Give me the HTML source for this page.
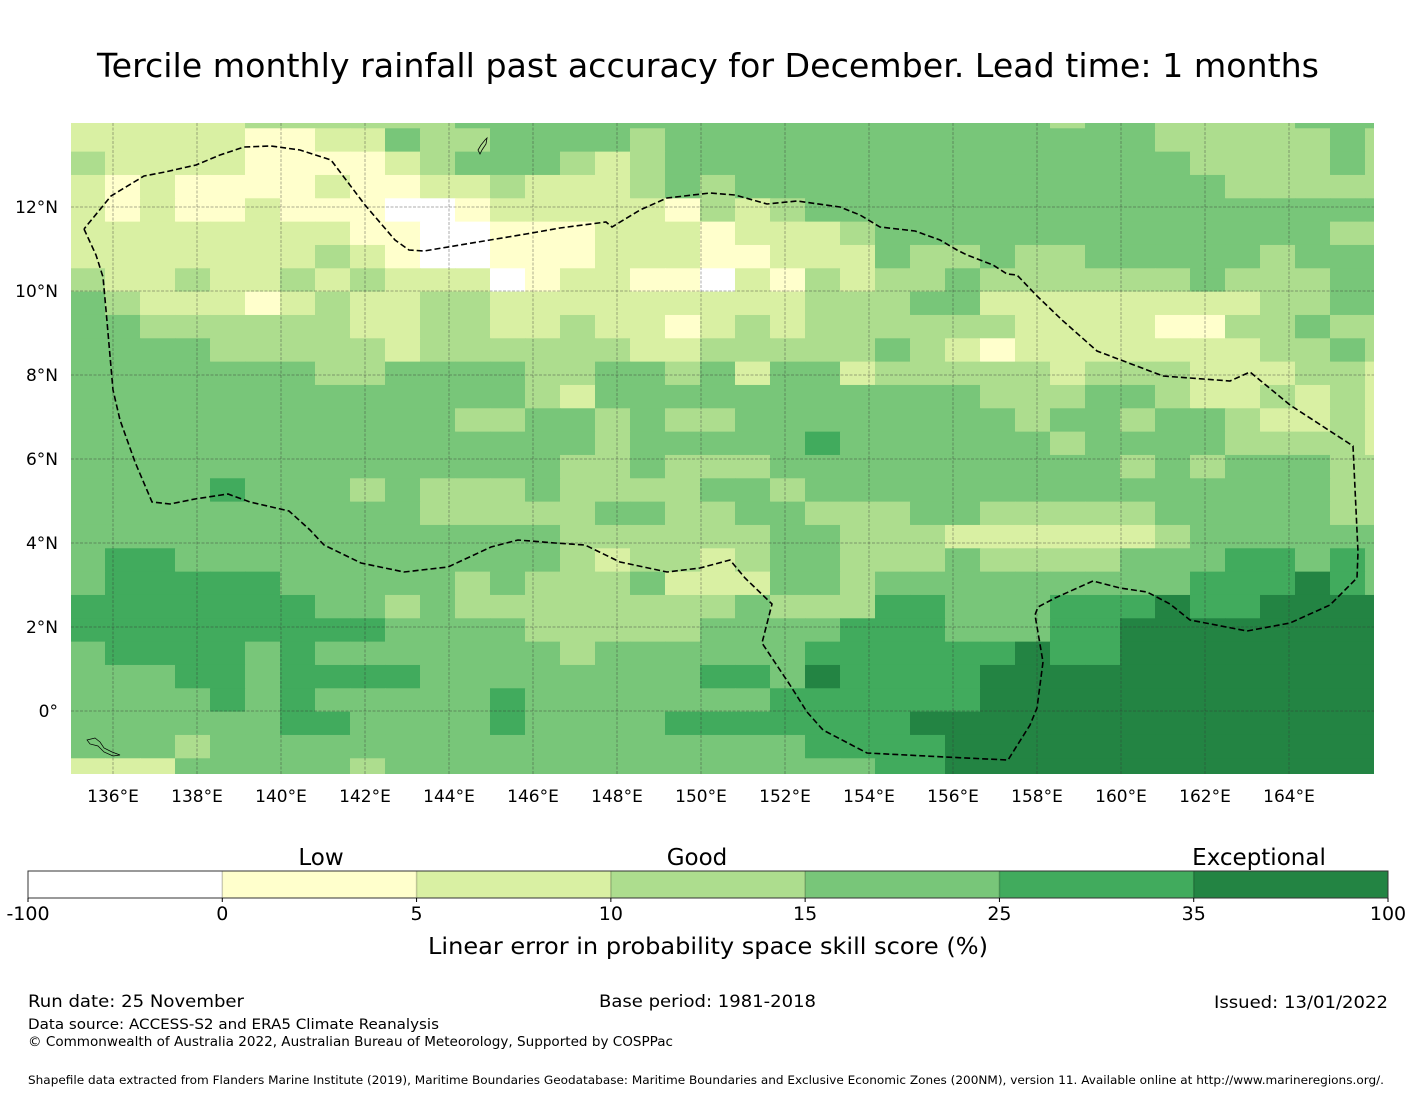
<!DOCTYPE html>
<html><head><meta charset="utf-8"><style>
html,body{margin:0;padding:0;background:#fff;}
svg{display:block;font-family:"DejaVu Sans","Liberation Sans",sans-serif;}
</style></head><body>
<svg id="chart" width="1416" height="1095" viewBox="0 0 1416 1095" xmlns="http://www.w3.org/2000/svg">
<text x="708" y="77" font-size="33" text-anchor="middle" fill="#000" textLength="1222" lengthAdjust="spacingAndGlyphs">Tercile monthly rainfall past accuracy for December. Lead time: 1 months</text>
<defs><clipPath id="mapclip"><rect x="71" y="123" width="1303" height="651"/></clipPath></defs>
<g id="map" clip-path="url(#mapclip)">
<g id="cells"></g>
<g id="grid"></g>
<path id="eez" fill="none" stroke="#000" stroke-width="1.6" stroke-dasharray="6,3"
d="M84,229 L96,255 L103,277 L106,310 L113,390 L120,420 L135,462 L152,502 L170,504 L195,499 L228,494 L250,502 L289,511 L310,530 L324,545 L361,563 L404,572 L448,567 L491,547 L518,540 L555,543 L585,545 L620,562 L667,572 L700,568 L730,560 L745,578 L772,604 L762,643 L790,685 L807,712 L823,730 L867,753 L945,757 L1008,760 L1030,725 L1037,708 L1043,662 L1035,615 L1038,607 L1055,598 L1093,581 L1120,588 L1147,592 L1170,604 L1190,620 L1247,631 L1290,623 L1330,605 L1357,578 L1358,552 L1353,446 L1290,405 L1250,372 L1230,381 L1163,376 L1097,351 L1062,320 L1037,296 L1017,275 L1007,274 L993,265 L967,255 L957,250 L940,240 L915,231 L880,227 L860,215 L840,207 L797,201 L767,204 L735,195 L710,193 L667,198 L640,210 L612,227 L606,222 L560,228 L526,234 L490,240 L424,251 L409,250 L395,240 L365,205 L331,160 L300,150 L271,146 L244,147 L220,155 L196,165 L165,172 L144,176 L111,196 L84,229"/>
<path d="M478,150 L481,145 L485,140 L487,138 L486,144 L482,150 L480,154 Z" fill="none" stroke="#000" stroke-width="0.8"/>
<path d="M87,740 L95,738 L100,742 L104,748 L112,752 L120,755 L113,756 L104,752 L98,746 L90,744 Z" fill="none" stroke="#000" stroke-width="0.7"/>
</g>
<g id="xticks"></g>
<g id="yticks"></g>
<g id="cbar"></g>
<text x="321" y="865" font-size="23" text-anchor="middle">Low</text>
<text x="697" y="865" font-size="23" text-anchor="middle">Good</text>
<text x="1259" y="865" font-size="23" text-anchor="middle">Exceptional</text>
<text x="708" y="954" font-size="23" text-anchor="middle" textLength="560" lengthAdjust="spacingAndGlyphs">Linear error in probability space skill score (%)</text>
<text x="28" y="1007" font-size="17" textLength="216" lengthAdjust="spacingAndGlyphs">Run date: 25 November</text>
<text x="599" y="1007" font-size="17" textLength="217" lengthAdjust="spacingAndGlyphs">Base period: 1981-2018</text>
<text x="1214" y="1008" font-size="17" textLength="174" lengthAdjust="spacingAndGlyphs">Issued: 13/01/2022</text>
<text x="28" y="1029" font-size="14.5" textLength="411" lengthAdjust="spacingAndGlyphs">Data source: ACCESS-S2 and ERA5 Climate Reanalysis</text>
<text x="28" y="1046" font-size="13" textLength="645" lengthAdjust="spacingAndGlyphs">© Commonwealth of Australia 2022, Australian Bureau of Meteorology, Supported by COSPPac</text>
<text x="28" y="1084" font-size="11.5" textLength="1356" lengthAdjust="spacingAndGlyphs">Shapefile data extracted from Flanders Marine Institute (2019), Maritime Boundaries Geodatabase: Maritime Boundaries and Exclusive Economic Zones (200NM), version 11. Available online at http://www.marineregions.org/.</text>
</svg>
<script>
// skill category per cell (0..6), rows north->south, cols west->east (38 cols)
const gridRows = [
"22222"+"333333"+"44"+"444444444444444"+"3"+"44"+"3333"+"444",
"2222211224334"+"4443444444444"+"444443333343",
"3222211112344"+"4323444444444"+"444444333343",
"2121111211223"+"2223434444444"+"444444433333",
"2121121110012"+"2222132344444"+"444444444444",
"2222222211001"+"1122212223444"+"444444444433",
"2222222321001"+"1122211222433"+"433444443444",
"3223223232220"+"1221102132334"+"333333433344",
"4322212322332"+"2222222233344"+"222222223344",
"4433333322332"+"2322123233333"+"322221133433",
"4444333332333"+"3332233333432"+"122222223343",
"4444444334444"+"3344342442333"+"332333222332",
"4444444444444"+"3244444444444"+"333443223232",
"4444444444433"+"4434334444444"+"434434432232",
"4444444444444"+"4434444454444"+"443444433332",
"4444444444444"+"4334333444444"+"444434344433",
"4444544434333"+"4333344344444"+"444444444433",
"4444444444333"+"3344334433344"+"333334444433",
"4444444444444"+"4333333443332"+"222223444444",
"4554444444444"+"4323323443334"+"333344455454",
"4555554444434"+"3334222443444"+"444444555654",
"5555555443433"+"3333334333554"+"445556556666",
"5555555554444"+"3333344445554"+"445566666666",
"4555545444444"+"4344444455555"+"565566666666",
"4445545555444"+"4444455465555"+"666666666666",
"4444545444445"+"4444444555555"+"666666666666",
"4444445544445"+"4444555555566"+"666666666666",
"4443444444444"+"4444444455556"+"666666666666",
"2224444434444"+"4444444444556"+"666666666666"
];
const levelColors = ["#ffffff","#ffffcc","#d9f0a3","#addd8e","#78c679","#41ab5d","#238443"];
const colorbarTicks = ["-100","0","5","10","15","25","35","100"];
const lonTicks = [136,138,140,142,144,146,148,150,152,154,156,158,160,162,164];
const latTicks = [12,10,8,6,4,2,0];
const lonStep = 0.8333333, latStep = 0.5555556;
const lonWestEdge = 135.8095 - lonStep;
const latNorthEdge = 13.874 + latStep;

const NS="http://www.w3.org/2000/svg";
function xOf(lon){ return 113 + (lon-136)*42; }
function yOf(lat){ return 207 - (lat-12)*42; }
function mk(tag, attrs){ const e=document.createElementNS(NS,tag); for(const k in attrs) e.setAttribute(k,attrs[k]); return e; }

const cells=document.getElementById("cells");
gridRows.forEach((row,r)=>{
  for(let c=0;c<38;c++){
    const v=parseInt(row[c]||"4",10);
    const lonW=lonWestEdge+c*lonStep, latN=latNorthEdge-r*latStep;
    const x0=xOf(lonW), x1=xOf(lonW+lonStep), y0=yOf(latN), y1=yOf(latN-latStep);
    const rect=mk("rect",{x:x0.toFixed(2),y:y0.toFixed(2),width:(x1-x0+0.6).toFixed(2),height:(y1-y0+0.6).toFixed(2),fill:levelColors[v]});
    
    
    cells.appendChild(rect);
  }
});

const grid=document.getElementById("grid");
lonTicks.forEach(lon=>{
  const x=xOf(lon);
  const l=mk("line",{x1:x,x2:x,y1:123,y2:774,stroke:"#333",'stroke-opacity':0.4,'stroke-width':1,'stroke-dasharray':"3,1.5"});
  
  
  grid.appendChild(l);
  const t=mk("text",{x:x,y:802,'font-size':17,'text-anchor':"middle"});
  t.textContent=lon+"°E";
  
  
  document.getElementById("xticks").appendChild(t);
});
latTicks.forEach(lat=>{
  const y=yOf(lat);
  const l=mk("line",{x1:71,x2:1374,y1:y,y2:y,stroke:"#333",'stroke-opacity':0.4,'stroke-width':1,'stroke-dasharray':"3,1.5"});
  
  
  grid.appendChild(l);
  const t=mk("text",{x:58,y:y+6,'font-size':17,'text-anchor':"end"});
  t.textContent=lat===0?"0°":lat+"°N";
  
  
  document.getElementById("yticks").appendChild(t);
});

const cbar=document.getElementById("cbar");
const cbX0=28, cbX1=1388, cbW=(cbX1-cbX0)/levelColors.length;
levelColors.forEach((col,i)=>{
  const r=mk("rect",{x:cbX0+i*cbW,y:871,width:cbW+0.5,height:27,fill:col});
  
  
  cbar.appendChild(r);
  if(i>0){
    const d=mk("line",{x1:cbX0+i*cbW,x2:cbX0+i*cbW,y1:871,y2:898,stroke:"#000",'stroke-opacity':0.2,'stroke-width':1.5});
    
    
    cbar.appendChild(d);
  }
});
const frame=mk("rect",{x:cbX0,y:871,width:cbX1-cbX0,height:27,fill:"none",stroke:"#333",'stroke-width':1});


cbar.appendChild(frame);
colorbarTicks.forEach((lab,i)=>{
  const x=cbX0+i*cbW;
  const tk=mk("line",{x1:x,x2:x,y1:898,y2:902,stroke:"#000",'stroke-width':1});
  
  
  cbar.appendChild(tk);
  const t=mk("text",{x:x,y:920,'font-size':19,'text-anchor':"middle"});
  t.textContent=lab;
  
  
  cbar.appendChild(t);
});
</script>
</body></html>
